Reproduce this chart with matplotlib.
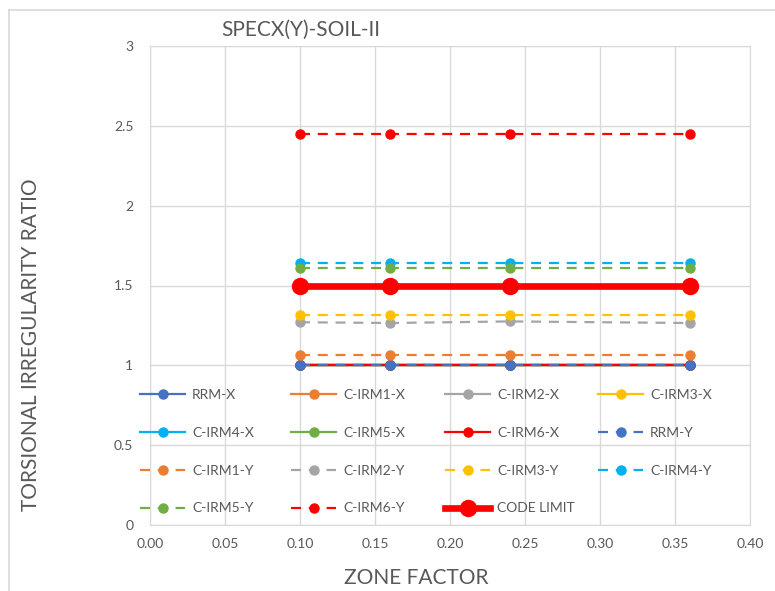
import matplotlib.pyplot as plt
from matplotlib.lines import Line2D

plt.rcParams['font.family'] = ['Lato', 'DejaVu Sans']

zone = [0.10, 0.16, 0.24, 0.36]

# X direction ratios
rrm_x = [1.0, 1.0, 1.0, 1.0]
cirm1_x = [1.0, 1.0, 1.0, 1.0]
cirm2_x = [1.0, 1.0, 1.0, 1.0]
cirm3_x = [1.0, 1.0, 1.0, 1.0]
cirm4_x = [1.0, 1.0, 1.0, 1.0]
cirm5_x = [1.0, 1.0, 1.0, 1.0]
cirm6_x = [1.0, 1.0, 1.0, 1.0]

# Y direction ratios
rrm_y = [1.0, 1.0, 1.0, 1.0]
cirm1_y = [1.065, 1.065, 1.065, 1.065]
cirm2_y = [1.27, 1.265, 1.275, 1.265]
cirm3_y = [1.315, 1.315, 1.315, 1.315]
cirm4_y = [1.64, 1.64, 1.64, 1.64]
cirm5_y = [1.61, 1.61, 1.61, 1.61]
cirm6_y = [2.45, 2.45, 2.45, 2.45]

code_limit = [1.5, 1.5, 1.5, 1.5]

names = ['RRM', 'C-IRM1', 'C-IRM2', 'C-IRM3', 'C-IRM4', 'C-IRM5', 'C-IRM6']
colors = ['#4472C4', '#ED7D31', '#A5A5A5', '#FFC000', '#00B0F0', '#70AD47', '#FF0000']
x_series = [rrm_x, cirm1_x, cirm2_x, cirm3_x, cirm4_x, cirm5_x, cirm6_x]
y_series = [rrm_y, cirm1_y, cirm2_y, cirm3_y, cirm4_y, cirm5_y, cirm6_y]

fig = plt.figure(figsize=(7.75, 5.91), dpi=100)
ax = fig.add_axes([150 / 775, 1 - 525 / 591, 600 / 775, 479 / 591])

handles = []
for name, c, vals in zip(names, colors, x_series):
    h, = ax.plot(zone, vals, color=c, lw=1.6, marker='o', ms=6.5, label=name + '-X')
    handles.append(h)
for name, c, vals in zip(names, colors, y_series):
    h, = ax.plot(zone, vals, color=c, lw=1.6, ls=(0, (4.5, 3.5)), marker='o', ms=6.5,
                 label=name + '-Y')
    handles.append(h)
h, = ax.plot(zone, code_limit, color='#FF0000', lw=4.8, marker='o', ms=11.5, label='CODE LIMIT')
handles.append(h)

ax.set_xlim(0, 0.40)
ax.set_ylim(0, 3)
ax.set_xticks([i * 0.05 for i in range(9)])
ax.set_xticklabels(['%.2f' % (i * 0.05) for i in range(9)])
ax.set_yticks([0, 0.5, 1, 1.5, 2, 2.5, 3])
ax.set_yticklabels(['0', '0.5', '1', '1.5', '2', '2.5', '3'])
ax.grid(True, color='#D9D9D9', lw=1)
ax.set_axisbelow(True)
for s in ax.spines.values():
    s.set_color('#D9D9D9')
ax.tick_params(length=0, labelsize=10, labelcolor='#595959')
ax.tick_params(axis='y', pad=12)
ax.tick_params(axis='x', pad=9)

fig.text(301 / 775, 1 - 30 / 591, 'SPECX(Y)-SOIL-II', ha='center', va='center',
         fontsize=15, color='#595959')
fig.text(416 / 775, 1 - 578 / 591, 'ZONE FACTOR', ha='center', va='center',
         fontsize=15, color='#595959')
fig.text(31 / 775, 1 - 345 / 591, 'TORSIONAL IRREGULARITY RATIO', ha='center', va='center',
         rotation=90, fontsize=15, color='#595959')

# legend laid out row by row, one legend per column
col_x = [140, 291, 445, 598]
for j, x0 in enumerate(col_x):
    hs = handles[j::4]
    leg = fig.legend(hs, [h.get_label() for h in hs], loc='upper left',
                     bbox_to_anchor=(x0 / 775, 1 - 389 / 591), frameon=False,
                     fontsize=10, handlelength=3.24, handletextpad=0.5,
                     labelspacing=1.86, borderpad=0, borderaxespad=0)
    for t in leg.get_texts():
        t.set_color('#595959')

# outer chart frame
fig.add_artist(Line2D([9 / 775, 9 / 775], [0, 1 - 10 / 591], color='#D9D9D9', lw=1.2))
fig.add_artist(Line2D([9 / 775, 1], [1 - 10 / 591, 1 - 10 / 591], color='#D9D9D9', lw=1.2))

fig.savefig('out.png', dpi=100)
